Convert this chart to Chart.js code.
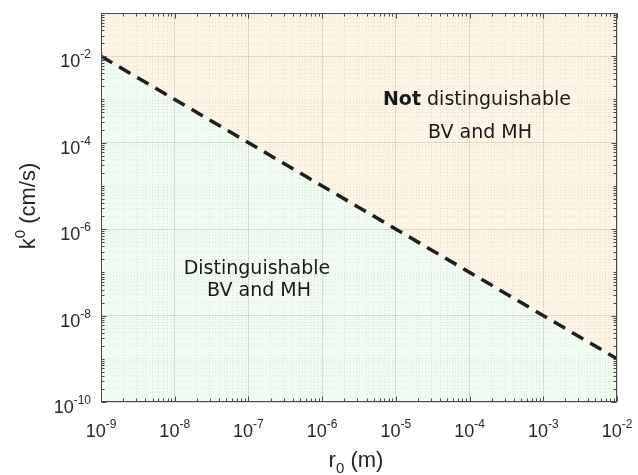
<!DOCTYPE html>
<html>
<head>
<meta charset="utf-8">
<title>k0 vs r0</title>
<style>
  html, body { margin: 0; padding: 0; background: #fff; }
  #wrap { width: 638px; height: 475px; }
</style>
</head>
<body>
<div id="wrap"><canvas id="regionChart"></canvas></div>
<script src="https://cdn.jsdelivr.net/npm/chart.js"></script>
<script>
// boundary between the two regions
const radius = [1e-9, 1e-2];      // r0 (m)
const kBoundary = [1e-2, 1e-9];   // k0 (cm/s)

// axis ranges and labelled decades
const xRange = [1e-9, 1e-2];
const yRange = [1e-10, 1e-1];
const xTickExps = [-9, -8, -7, -6, -5, -4, -3, -2];
const yTickExps = [-10, -8, -6, -4, -2];

// region annotations
const lowerText = ['Distinguishable', 'BV and MH'];
const upperBold = 'Not';
const upperText = [' distinguishable', 'BV and MH'];

const TICK_FONT = '18px "Liberation Sans", Arial, sans-serif';
const EXP_FONT = '12px "Liberation Sans", Arial, sans-serif';
const TITLE_FONT = '22px "Liberation Sans", Arial, sans-serif';
const TITLE_SMALL = '15px "Liberation Sans", Arial, sans-serif';
const NOTE_FONT = '19px "DejaVu Sans", Verdana, sans-serif';
const NOTE_BOLD = 'bold 19px "DejaVu Sans", Verdana, sans-serif';
const TEXT_COL = '#262626';

function logTicks(range) {
  const lo = Math.floor(Math.log10(range[0]));
  const hi = Math.ceil(Math.log10(range[1]));
  const out = [];
  for (let d = lo; d <= hi; d++) {
    for (let m = 1; m <= 9; m++) {
      const v = Number((m * Math.pow(10, d)).toPrecision(12));
      if (v >= range[0] * 0.999999 && v <= range[1] * 1.000001) out.push({ value: v });
    }
  }
  return out;
}

function expOf(v) {
  const e = Math.log10(v);
  return Math.abs(e - Math.round(e)) < 1e-6 ? Math.round(e) : null;
}
const isMajor = (v, list) => { const e = expOf(v); return e !== null && list.includes(e); };

function gridOpts(list) {
  return {
    drawTicks: false,
    lineWidth: 1,
    color: c => (c.tick && isMajor(c.tick.value, list)) ? 'rgba(0,0,0,0.14)' : 'rgba(0,0,0,0.09)'
  };
}
function borderOpts(list) {
  return {
    display: false,
    dash: c => (c.tick && isMajor(c.tick.value, list)) ? [] : [1, 2]
  };
}

function powParts(ctx, e) {
  ctx.font = TICK_FONT; const w1 = ctx.measureText('10').width;
  ctx.font = EXP_FONT; const w2 = ctx.measureText(String(e)).width;
  return [w1, w2];
}
function drawPow(ctx, e, x, y) {
  const [w1] = powParts(ctx, e);
  ctx.font = TICK_FONT; ctx.fillText('10', x, y);
  ctx.font = EXP_FONT; ctx.fillText(String(e), x + w1, y - 9);
}

const decorPlugin = {
  id: 'decor',
  afterDatasetsDraw(chart) {
    const ctx = chart.ctx;
    const a = chart.chartArea;
    const xs = chart.scales.x, ys = chart.scales.y;
    ctx.save();

    // region labels
    ctx.fillStyle = '#1a1a1a';
    ctx.textBaseline = 'alphabetic';
    ctx.textAlign = 'center';
    ctx.font = NOTE_FONT;
    ctx.fillText(lowerText[0], 257, 274);
    ctx.fillText(lowerText[1], 259, 296);
    ctx.font = NOTE_BOLD; const wb = ctx.measureText(upperBold).width;
    ctx.font = NOTE_FONT; const wn = ctx.measureText(upperText[0]).width;
    ctx.textAlign = 'left';
    let sx = 477 - (wb + wn) / 2;
    ctx.font = NOTE_BOLD; ctx.fillText(upperBold, sx, 105);
    ctx.font = NOTE_FONT; ctx.fillText(upperText[0], sx + wb, 105);
    ctx.textAlign = 'center';
    ctx.fillText(upperText[1], 480, 138);

    // box and inward ticks on all four sides
    ctx.strokeStyle = '#4a4a4a';
    ctx.lineWidth = 1;
    const L = Math.round(a.left) + 0.5, R = Math.round(a.right) - 0.5;
    const T = Math.round(a.top) + 0.5, B = Math.round(a.bottom) - 0.5;
    ctx.strokeRect(L, T, R - L, B - T);
    ctx.beginPath();
    xs.ticks.forEach(t => {
      const px = Math.round(xs.getPixelForValue(t.value)) + 0.5;
      const len = isMajor(t.value, xTickExps) ? 5 : 3;
      ctx.moveTo(px, B); ctx.lineTo(px, B - len);
      ctx.moveTo(px, T); ctx.lineTo(px, T + len);
    });
    ys.ticks.forEach(t => {
      const py = Math.round(ys.getPixelForValue(t.value)) + 0.5;
      const len = isMajor(t.value, yTickExps) ? 5 : 3;
      ctx.moveTo(L, py); ctx.lineTo(L + len, py);
      ctx.moveTo(R, py); ctx.lineTo(R - len, py);
    });
    ctx.stroke();

    // tick labels
    ctx.fillStyle = TEXT_COL;
    ctx.textAlign = 'left';
    xTickExps.forEach(e => {
      const px = xs.getPixelForValue(Math.pow(10, e));
      const [w1, w2] = powParts(ctx, e);
      drawPow(ctx, e, px - (w1 + w2) / 2, 437);
    });
    yTickExps.forEach(e => {
      const py = ys.getPixelForValue(Math.pow(10, e));
      const [w1, w2] = powParts(ctx, e);
      drawPow(ctx, e, 91 - (w1 + w2), py + 11);
    });

    // x title: r0 (m)
    ctx.font = TITLE_FONT; const wr = ctx.measureText('r').width; const wm = ctx.measureText(' (m)').width;
    ctx.font = TITLE_SMALL; const w0 = ctx.measureText('0').width;
    let tx = 356 - (wr + w0 + wm) / 2;
    ctx.font = TITLE_FONT; ctx.fillText('r', tx, 467);
    ctx.font = TITLE_SMALL; ctx.fillText('0', tx + wr, 473);
    ctx.font = TITLE_FONT; ctx.fillText(' (m)', tx + wr + w0, 467);

    // y title: k0 (cm/s)
    ctx.translate(35, 206);
    ctx.rotate(-Math.PI / 2);
    ctx.font = TITLE_FONT; const wk = ctx.measureText('k').width; const wc = ctx.measureText(' (cm/s)').width;
    ctx.font = TITLE_SMALL; const wz = ctx.measureText('0').width;
    let ty = -(wk + wz + wc) / 2;
    ctx.font = TITLE_FONT; ctx.fillText('k', ty, 0);
    ctx.font = TITLE_SMALL; ctx.fillText('0', ty + wk, -10);
    ctx.font = TITLE_FONT; ctx.fillText(' (cm/s)', ty + wk + wz, 0);

    ctx.restore();
  }
};

const points = radius.map((r, i) => ({ x: r, y: kBoundary[i] }));

new Chart(document.getElementById('regionChart'), {
  type: 'line',
  data: {
    datasets: [
      {
        label: 'boundary',
        data: points,
        borderColor: '#1f1f1f',
        borderWidth: 3.5,
        borderDash: [13, 8],
        pointRadius: 0,
        fill: 'start',
        backgroundColor: 'rgba(160,225,160,0.15)'
      },
      {
        label: 'upper',
        data: points,
        borderWidth: 0,
        borderColor: 'rgba(0,0,0,0)',
        pointRadius: 0,
        fill: 'end',
        backgroundColor: 'rgba(240,205,130,0.2)'
      }
    ]
  },
  options: {
    responsive: true,
    maintainAspectRatio: false,
    animation: false,
    layout: { padding: { top: 13, right: 21, left: 0, bottom: 0 } },
    plugins: { legend: { display: false }, tooltip: { enabled: false } },
    scales: {
      x: {
        type: 'logarithmic',
        min: xRange[0], max: xRange[1],
        afterBuildTicks: s => { s.ticks = logTicks(xRange); },
        afterFit: s => { s.height = 73; },
        ticks: { display: false },
        grid: gridOpts(xTickExps),
        border: borderOpts(xTickExps)
      },
      y: {
        type: 'logarithmic',
        min: yRange[0], max: yRange[1],
        afterBuildTicks: s => { s.ticks = logTicks(yRange); },
        afterFit: s => { s.width = 101; },
        ticks: { display: false },
        grid: gridOpts(yTickExps),
        border: borderOpts(yTickExps)
      }
    }
  },
  plugins: [decorPlugin]
});
</script>
</body>
</html>
